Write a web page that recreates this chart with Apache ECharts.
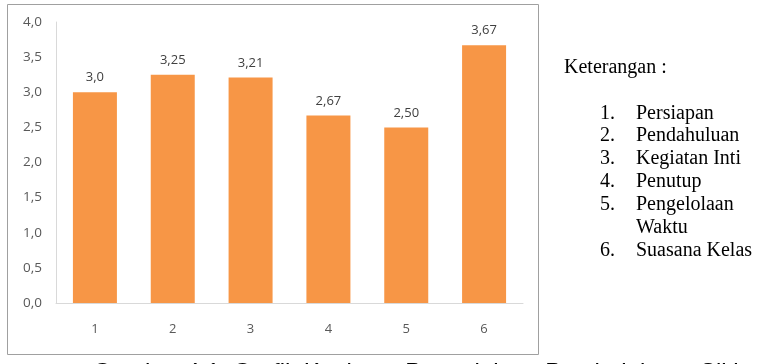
<!DOCTYPE html>
<html>
<head>
<meta charset="utf-8">
<script src="https://cdn.jsdelivr.net/npm/echarts@6/dist/echarts.min.js"></script>
<style>
html,body{margin:0;padding:0;background:#fff;}
#chart{width:763px;height:364px;}
</style>
</head>
<body>
<div id="chart"></div>
<script>
const categories = ['1', '2', '3', '4', '5', '6'];
const values = [3.0, 3.25, 3.21, 2.67, 2.50, 3.67];
const valueLabels = ['3,0', '3,25', '3,21', '2,67', '2,50', '3,67'];
const yTicks = [0, 0.5, 1, 1.5, 2, 2.5, 3, 3.5, 4];
const legendTitle = 'Keterangan :';
const legendItems = ['Persiapan', 'Pendahuluan', 'Kegiatan Inti', 'Penutup', 'Pengelolaan', 'Waktu', 'Suasana Kelas'];
const legendNums = ['1.', '2.', '3.', '4.', '5.', '', '6.'];
const caption = 'Gambar 4.1. Grafik Kegiatan Pengelolaan Pembelajaran Siklus I';

const chart = echarts.init(document.getElementById('chart'), null, {renderer: 'canvas'});

const serif = '"Liberation Serif", "Times New Roman", serif';
const baselines = [119.3, 141.7, 164.7, 187.3, 210.3, 233.3, 256];
const graphics = [
  {type: 'rect', shape: {x: 7.5, y: 4.5, width: 531, height: 350}, style: {fill: null, stroke: '#a0a0a0', lineWidth: 1}, z: 0, silent: true},
  {type: 'text', x: 564, y: 73.3 + 4.5, style: {text: legendTitle, font: '20px ' + serif, fill: '#000', verticalAlign: 'bottom'}}
];
legendItems.forEach((t, i) => {
  if (legendNums[i]) graphics.push({type: 'text', x: 600, y: baselines[i] + 4.5, style: {text: legendNums[i], font: '20px ' + serif, fill: '#000', verticalAlign: 'bottom'}});
  graphics.push({type: 'text', x: 636, y: baselines[i] + 4.5, style: {text: t, font: '20px ' + serif, fill: '#000', verticalAlign: 'bottom'}});
});
graphics.push({type: 'text', x: 93, y: 385, style: {text: caption, font: '24px "Liberation Sans", Arial, sans-serif', fill: '#000', verticalAlign: 'bottom'}});

chart.setOption({
  animation: false,
  backgroundColor: '#fff',
  grid: {left: 56, right: 240, top: 22, bottom: 61, containLabel: false},
  xAxis: {
    type: 'category',
    data: categories,
    axisLine: {show: true, lineStyle: {color: '#d9d9d9', width: 1}},
    axisTick: {show: false},
    axisLabel: {color: '#595959', fontFamily: '"Open Sans", sans-serif', fontSize: 13, margin: 20}
  },
  yAxis: {
    type: 'value',
    min: 0,
    max: 4,
    interval: 0.5,
    axisLine: {show: true, lineStyle: {color: '#d9d9d9', width: 1}},
    axisTick: {show: false},
    splitLine: {show: false},
    axisLabel: {
      color: '#595959', fontFamily: '"Open Sans", sans-serif', fontSize: 13.5, margin: 14,
      formatter: v => v.toFixed(1).replace('.', ',')
    }
  },
  series: [{
    type: 'bar',
    data: values,
    barWidth: 44,
    itemStyle: {color: '#f79646'},
    label: {
      show: true, position: 'top', distance: 8,
      color: '#404040', fontFamily: '"Open Sans", sans-serif', fontSize: 13,
      formatter: p => valueLabels[p.dataIndex]
    }
  }],
  graphic: graphics
});
</script>
</body>
</html>
